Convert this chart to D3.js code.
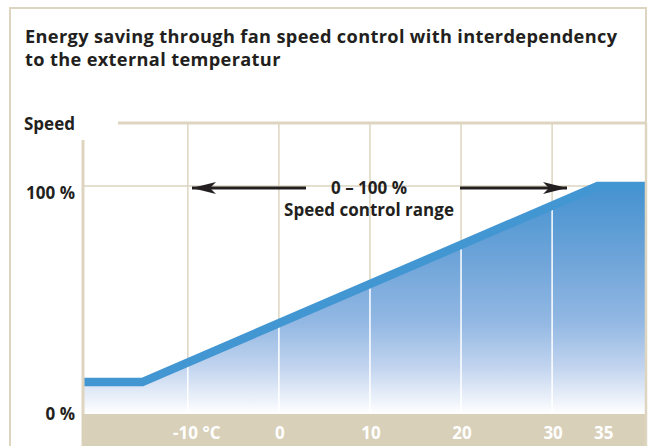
<!DOCTYPE html>
<html>
<head>
<meta charset="utf-8">
<script src="https://cdn.jsdelivr.net/npm/d3@7"></script>
<style>
  body { margin: 0; background: #fff; }
  text { font-family: "Open Sans", "DejaVu Sans", sans-serif; }
</style>
</head>
<body>
<div id="chart"></div>
<script>
// data
var temps = [-21.4, -15, 35, 40.2];      // external temperature, °C
var speeds = [14, 14, 100, 100];         // fan speed, %
var gridTemps = [-10, 0, 10, 20, 30];
var tickTemps = [-10, 0, 10, 20, 30, 35];
var tickLabels = ["-10 °C", "0", "10", "20", "30", "35"];
var yTicks = [0, 100];
var yTickLabels = ["0 %", "100 %"];

var titleLines = ["Energy saving through fan speed control with interdependency",
                  "to the external temperatur"];

var W = 651, H = 446;
var beige = "#ddd5c0", band = "#d8d0b9", ink = "#231f20";

var svg = d3.select("#chart").append("svg")
    .attr("width", W).attr("height", H);

var x = d3.scaleLinear().domain([-21.4, 40.2]).range([84, 645]);
var y = d3.scaleLinear().domain([0, 100]).range([414, 186]);

var data = temps.map(function (t, i) { return { t: t, s: speeds[i] }; });

// outer frame
svg.append("path")
    .attr("d", "M10," + H + "V8H646V" + H)
    .attr("fill", "none").attr("stroke", beige).attr("stroke-width", 2);

// title
svg.selectAll(".title").data(titleLines).enter().append("text")
    .attr("x", 25).attr("y", function (d, i) { return 43 + i * 22.5; })
    .attr("font-size", 18.2).attr("font-weight", "bold").attr("fill", ink)
    .attr("letter-spacing", 0.35)
    .text(function (d) { return d; });

// gradient
var defs = svg.append("defs");
var grad = defs.append("linearGradient").attr("id", "fillGrad")
    .attr("gradientUnits", "userSpaceOnUse")
    .attr("x1", 0).attr("x2", 0).attr("y1", y(100)).attr("y2", y(0));
[[0, "#4592d0"], [0.35, "#72a6da"], [0.6, "#93b8e3"], [0.8, "#c3d5ef"], [1, "#ffffff"]].forEach(function (s) {
    grad.append("stop").attr("offset", s[0]).attr("stop-color", s[1]);
});

var area = d3.area()
    .x(function (d) { return x(d.t); })
    .y0(y(0))
    .y1(function (d) { return y(d.s); });

defs.append("clipPath").attr("id", "areaClip")
    .append("path").attr("d", area(data));

// grid
svg.append("line")
    .attr("x1", 118).attr("x2", 646).attr("y1", 123).attr("y2", 123)
    .attr("stroke", beige).attr("stroke-width", 3);
svg.selectAll(".vgrid").data(gridTemps).enter().append("line")
    .attr("x1", function (d) { return x(d); }).attr("x2", function (d) { return x(d); })
    .attr("y1", 123).attr("y2", y(0))
    .attr("stroke", beige).attr("stroke-width", 1.5);
svg.append("line")
    .attr("x1", x.range()[0]).attr("x2", x.range()[1])
    .attr("y1", y(100)).attr("y2", y(100))
    .attr("stroke", beige).attr("stroke-width", 1.5);

// area
svg.append("path").attr("d", area(data)).attr("fill", "url(#fillGrad)");

// white grid lines over the area
svg.append("g").attr("clip-path", "url(#areaClip)")
  .selectAll("line").data(gridTemps).enter().append("line")
    .attr("x1", function (d) { return x(d); }).attr("x2", function (d) { return x(d); })
    .attr("y1", 123).attr("y2", y(0))
    .attr("stroke", "#fff").attr("stroke-width", 1.5);

// speed line
svg.append("path")
    .attr("d", d3.line().x(function (d) { return x(d.t); }).y(function (d) { return y(d.s); })(data))
    .attr("fill", "none").attr("stroke", "#4296d2").attr("stroke-width", 8.5)
    .attr("stroke-linejoin", "miter");

// y axis line and bottom band
svg.append("line")
    .attr("x1", 83).attr("x2", 83).attr("y1", 140).attr("y2", H)
    .attr("stroke", beige).attr("stroke-width", 3);
svg.append("rect")
    .attr("x", 82).attr("y", y(0)).attr("width", 647 - 82).attr("height", H - y(0))
    .attr("fill", band);
svg.append("line")
    .attr("x1", 646).attr("x2", 646).attr("y1", 123).attr("y2", H)
    .attr("stroke", beige).attr("stroke-width", 2.5);

// x tick labels
var labelShift = { "-10": 9, "35": 6 };
svg.selectAll(".xlab").data(tickTemps).enter().append("text")
    .attr("x", function (d) { return x(d) + (labelShift[d] || 1); })
    .attr("y", 439)
    .attr("text-anchor", "middle")
    .attr("font-size", 17).attr("font-weight", "bold").attr("fill", "#fff")
    .text(function (d, i) { return tickLabels[i]; });

// y labels
svg.selectAll(".ylab").data(yTicks).enter().append("text")
    .attr("x", 75).attr("y", function (d) { return y(d) + (d === 0 ? 6 : 13); })
    .attr("text-anchor", "end")
    .attr("font-size", 17).attr("font-weight", "bold").attr("fill", ink)
    .text(function (d, i) { return yTickLabels[i]; });
svg.append("text")
    .attr("x", 24).attr("y", 130)
    .attr("font-size", 17).attr("font-weight", "bold").attr("fill", ink)
    .text("Speed");

// range annotation
defs.append("marker").attr("id", "arrow")
    .attr("viewBox", "0 0 24 12").attr("refX", 24).attr("refY", 6)
    .attr("markerUnits", "userSpaceOnUse")
    .attr("markerWidth", 24).attr("markerHeight", 12).attr("orient", "auto")
    .append("path").attr("d", "M0,0L24,6L0,12L6,6Z").attr("fill", ink);
svg.append("line")
    .attr("x1", 306).attr("x2", 192).attr("y1", 188).attr("y2", 188)
    .attr("stroke", ink).attr("stroke-width", 3).attr("marker-end", "url(#arrow)");
svg.append("line")
    .attr("x1", 460).attr("x2", 567).attr("y1", 188).attr("y2", 188)
    .attr("stroke", ink).attr("stroke-width", 3).attr("marker-end", "url(#arrow)");
svg.append("text")
    .attr("x", 369).attr("y", 194).attr("text-anchor", "middle")
    .attr("font-size", 17).attr("font-weight", "bold").attr("fill", ink)
    .text("0 – 100 %");
svg.append("text")
    .attr("x", 369).attr("y", 216).attr("text-anchor", "middle")
    .attr("font-size", 17).attr("font-weight", "bold").attr("fill", ink)
    .text("Speed control range");
</script>
</body>
</html>
